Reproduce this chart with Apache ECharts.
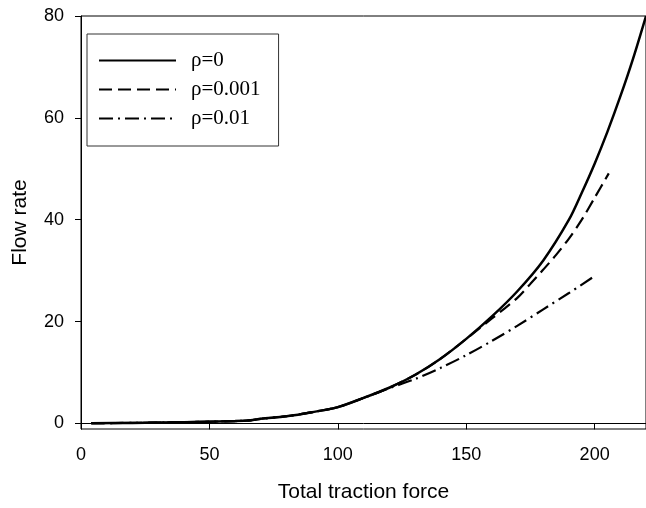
<!DOCTYPE html>
<html>
<head>
<meta charset="utf-8">
<script src="https://cdn.jsdelivr.net/npm/echarts@6/dist/echarts.min.js"></script>
<style>
  html, body { margin: 0; padding: 0; background: #fff; }
  #chart { width: 646px; height: 508px; }
</style>
</head>
<body>
<div id="chart"></div>
<script>
  // values
  const names = ['ρ=0', 'ρ=0.001', 'ρ=0.01']
  const xTicks = [0, 50, 100, 150, 200]
  const yTicks = [0, 20, 40, 60, 80]

  const force0 = [4, 20, 40, 60, 66, 70, 80, 90, 100, 110, 120, 130, 140, 150, 160, 170, 180, 190, 195, 200, 205, 210, 215, 220]
  const flow0 = [0.05, 0.1, 0.25, 0.45, 0.6, 0.9, 1.4, 2.2, 3.2, 5.0, 7.0, 9.5, 12.7, 16.6, 21.0, 26.0, 32.0, 40.0, 45.3, 51.0, 57.3, 64.2, 71.7, 80]

  const force1 = [4, 20, 40, 60, 66, 70, 80, 90, 100, 110, 120, 130, 140, 150, 160, 165, 170, 175, 180, 185, 190, 195, 200, 205.5]
  const flow1 = [0.05, 0.1, 0.25, 0.45, 0.6, 0.9, 1.4, 2.2, 3.2, 5.0, 7.0, 9.5, 12.7, 16.6, 20.6, 22.6, 24.7, 27.4, 30.2, 33.1, 36.3, 40.0, 44.3, 49.1]

  const force2 = [4, 20, 40, 60, 66, 70, 80, 90, 100, 110, 120, 130, 140, 150, 160, 170, 180, 190, 199]
  const flow2 = [0.05, 0.1, 0.25, 0.45, 0.6, 0.9, 1.4, 2.2, 3.2, 5.0, 6.9, 8.7, 10.9, 13.4, 16.2, 19.2, 22.4, 25.6, 28.6]

  const pairs = (xs, ys) => xs.map((x, i) => [x, ys[i]])

  const myChart = echarts.init(document.getElementById('chart'))
  const axisFont = { fontFamily: 'Liberation Sans', fontSize: 18, color: '#000' }

  const option = {
    animation: false,
    backgroundColor: '#fff',
    grid: {
      left: 81,
      top: 16,
      width: 566,
      height: 413,
      show: true,
      borderColor: '#000',
      borderWidth: 1
    },
    legend: {
      orient: 'vertical',
      left: 87,
      top: 34,
      padding: [16, 18, 17, 11],
      itemGap: 8,
      itemWidth: 77,
      itemHeight: 20,
      borderColor: '#333',
      borderWidth: 1,
      borderRadius: 0,
      data: names,
      // hide the marker dot, keep only the line sample
      itemStyle: { opacity: 0 },
      textStyle: {
        fontFamily: 'Liberation Serif',
        fontSize: 21,
        color: '#000',
        padding: [0, 0, 0, 10]
      }
    },
    xAxis: {
      type: 'value',
      min: 0,
      max: 220,
      name: 'Total traction force',
      nameLocation: 'middle',
      nameGap: 53,
      nameTextStyle: { fontFamily: 'Liberation Sans', fontSize: 21, color: '#000' },
      splitLine: { show: false },
      axisLine: { show: true, lineStyle: { color: '#000', width: 1 } },
      axisTick: { show: true, length: 6, customValues: xTicks, lineStyle: { color: '#000' } },
      axisLabel: Object.assign({ margin: 17, customValues: xTicks }, axisFont)
    },
    yAxis: {
      type: 'value',
      min: -1.1,
      max: 80,
      name: 'Flow rate',
      nameLocation: 'middle',
      nameGap: 50,
      nameTextStyle: { fontFamily: 'Liberation Sans', fontSize: 21, color: '#000' },
      splitLine: { show: false },
      axisLine: { show: true, lineStyle: { color: '#000', width: 1 } },
      axisTick: { show: true, length: 6, customValues: yTicks, lineStyle: { color: '#000' } },
      axisLabel: Object.assign({ margin: 17, customValues: yTicks }, axisFont)
    },
    series: [
      {
        name: names[0],
        type: 'line',
        symbol: 'none',
        smooth: 0.3,
        data: pairs(force0, flow0),
        lineStyle: { color: '#000', width: 2.5, type: 'solid' },
        itemStyle: { color: '#000' },
        z: 3
      },
      {
        name: names[1],
        type: 'line',
        symbol: 'none',
        smooth: 0.3,
        data: pairs(force1, flow1),
        lineStyle: { color: '#000', width: 2.2, type: [13, 6] },
        itemStyle: { color: '#000' },
        z: 2
      },
      {
        name: names[2],
        type: 'line',
        symbol: 'none',
        smooth: 0.3,
        data: pairs(force2, flow2),
        lineStyle: { color: '#000', width: 2.2, type: [14, 5, 2, 5] },
        itemStyle: { color: '#000' },
        z: 1
      }
    ]
  }

  myChart.setOption(option)
</script>
</body>
</html>
